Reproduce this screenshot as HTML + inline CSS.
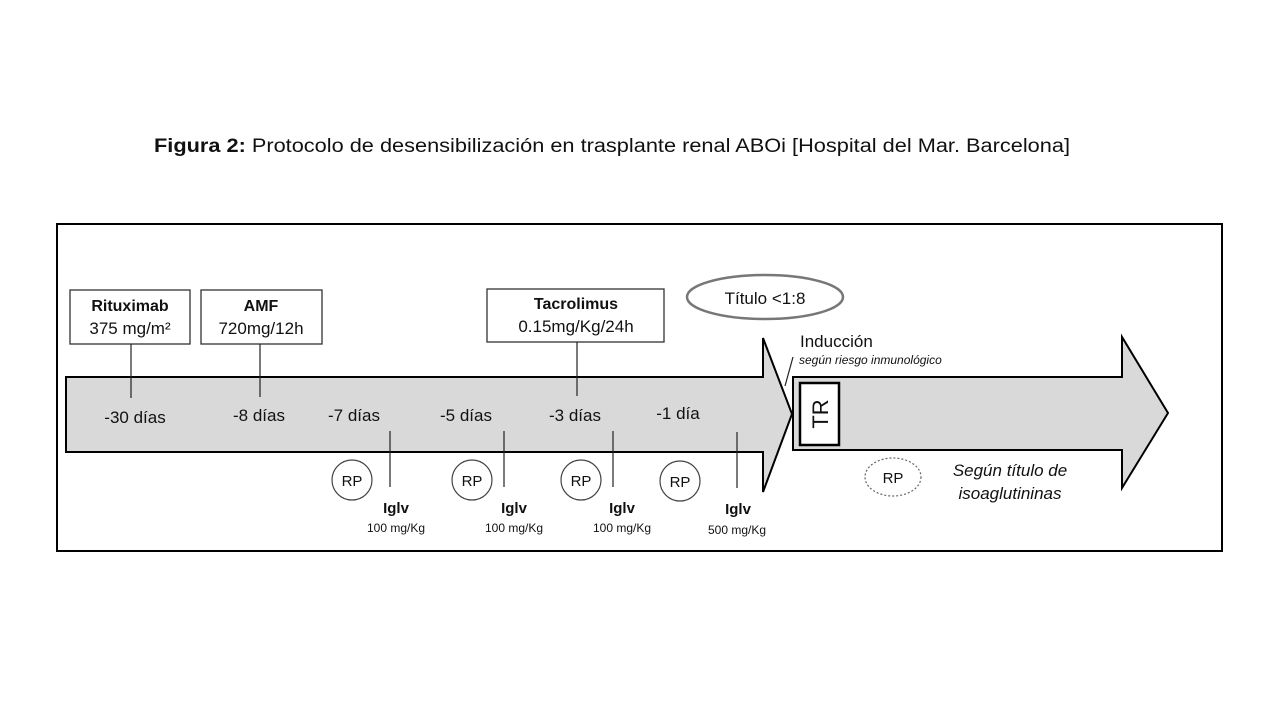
<!DOCTYPE html>
<html><head><meta charset="utf-8"><style>
body{margin:0;background:#fff;width:1280px;height:720px;overflow:hidden}
svg{display:block}
text{font-family:"Liberation Sans",sans-serif;fill:#111}
</style></head><body>
<svg width="1280" height="720" viewBox="0 0 1280 720">
<text x="612" y="152" font-size="19" text-anchor="middle" textLength="916" lengthAdjust="spacingAndGlyphs"><tspan font-weight="bold">Figura 2:</tspan> Protocolo de desensibilización en trasplante renal ABOi [Hospital del Mar. Barcelona]</text>
<rect x="57" y="224" width="1165" height="327" fill="none" stroke="#000" stroke-width="2"/>
<polygon points="66,377 763,377 763,338 792,414 763,492 763,452 66,452" fill="#d9d9d9" stroke="#000" stroke-width="2"/>
<polygon points="793,377 1122,377 1122,337 1168,413 1122,488 1122,450 793,450" fill="#d9d9d9" stroke="#000" stroke-width="2"/>
<rect x="800" y="383" width="39" height="62" fill="#fff" stroke="#000" stroke-width="2.5"/>
<text x="0" y="0" font-size="22" text-anchor="middle" transform="translate(828,414) rotate(-90)">TR</text>
<g fill="#fff" stroke="#333" stroke-width="1.3">
<rect x="70" y="290" width="120" height="54"/>
<rect x="201" y="290" width="121" height="54"/>
<rect x="487" y="289" width="177" height="53"/>
</g>
<ellipse cx="765" cy="297" rx="78" ry="22" fill="#fff" stroke="#777" stroke-width="2.5"/>
<text x="765" y="304" font-size="17" text-anchor="middle">Título &lt;1:8</text>
<text x="130" y="311" font-size="16" font-weight="bold" text-anchor="middle">Rituximab</text>
<text x="130" y="334" font-size="17" text-anchor="middle">375 mg/m²</text>
<text x="261" y="311" font-size="16" font-weight="bold" text-anchor="middle">AMF</text>
<text x="261" y="334" font-size="17" text-anchor="middle">720mg/12h</text>
<text x="576" y="309" font-size="16" font-weight="bold" text-anchor="middle">Tacrolimus</text>
<text x="576" y="332" font-size="17" text-anchor="middle">0.15mg/Kg/24h</text>
<g stroke="#222" stroke-width="1.2">
<line x1="131" y1="344" x2="131" y2="398"/>
<line x1="260" y1="344" x2="260" y2="397"/>
<line x1="577" y1="342" x2="577" y2="396"/>
<line x1="390" y1="431" x2="390" y2="487"/>
<line x1="504" y1="431" x2="504" y2="487"/>
<line x1="613" y1="431" x2="613" y2="487"/>
<line x1="737" y1="432" x2="737" y2="488"/>
<line x1="793" y1="357" x2="785" y2="386"/>
</g>
<g font-size="17" text-anchor="middle">
<text x="135" y="423">-30 días</text>
<text x="259" y="421">-8 días</text>
<text x="354" y="421">-7 días</text>
<text x="466" y="421">-5 días</text>
<text x="575" y="421">-3 días</text>
<text x="678" y="419">-1 día</text>
</g>
<g fill="#fff" stroke="#444" stroke-width="1.2">
<circle cx="352" cy="480" r="20"/><circle cx="472" cy="480" r="20"/>
<circle cx="581" cy="480" r="20"/><circle cx="680" cy="481" r="20"/>
</g>
<ellipse cx="893" cy="477" rx="28" ry="19" fill="#fff" stroke="#666" stroke-width="1.2" stroke-dasharray="2,2"/>
<g font-size="15" text-anchor="middle">
<text x="352" y="486">RP</text><text x="472" y="486">RP</text>
<text x="581" y="486">RP</text><text x="680" y="487">RP</text><text x="893" y="483">RP</text>
</g>
<g font-size="15" font-weight="bold" text-anchor="middle">
<text x="396" y="513">Iglv</text><text x="514" y="513">Iglv</text>
<text x="622" y="513">Iglv</text><text x="738" y="514">Iglv</text>
</g>
<g font-size="12" text-anchor="middle">
<text x="396" y="532">100 mg/Kg</text><text x="514" y="532">100 mg/Kg</text>
<text x="622" y="532">100 mg/Kg</text><text x="737" y="534">500 mg/Kg</text>
</g>
<text x="800" y="347" font-size="17">Inducción</text>
<text x="799" y="364" font-size="12" font-style="italic">según riesgo inmunológico</text>
<text x="1010" y="476" font-size="17" font-style="italic" text-anchor="middle">Según título de</text>
<text x="1010" y="499" font-size="17" font-style="italic" text-anchor="middle">isoaglutininas</text>
</svg>
</body></html>
